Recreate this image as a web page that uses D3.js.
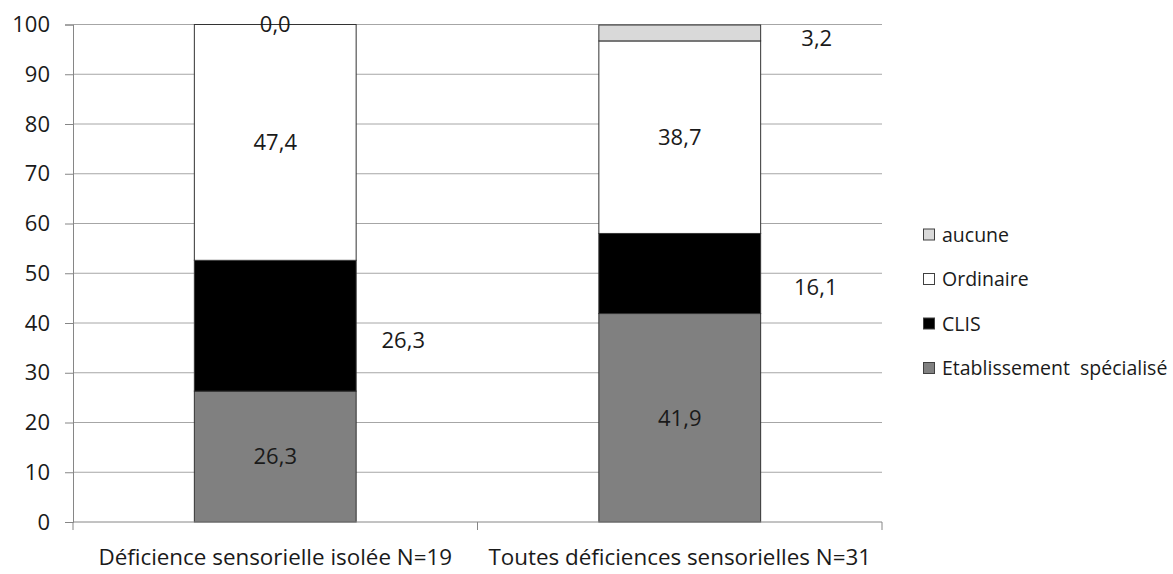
<!DOCTYPE html>
<html>
<head>
<meta charset="utf-8">
<script src="https://cdn.jsdelivr.net/npm/d3@7"></script>
<style>
  html, body { margin: 0; padding: 0; background: #fff; }
  svg { display: block; font-family: "Open Sans", "Noto Sans", sans-serif; }
</style>
</head>
<body>
<svg id="chart" width="1173" height="574"></svg>
<script>
// Scolarisation des enfants selon le type de déficience (%)
const categories = ["Déficience sensorielle isolée N=19", "Toutes déficiences sensorielles N=31"];
const seriesNames = ["Etablissement  spécialisé", "CLIS", "Ordinaire", "aucune"];
const etablissement = [26.3, 41.9];
const clis = [26.3, 16.1];
const ordinaire = [47.4, 38.7];
const aucune = [0.0, 3.2];
const yTicks = [0, 10, 20, 30, 40, 50, 60, 70, 80, 90, 100];

const seriesValues = [etablissement, clis, ordinaire, aucune];
const colors = ["#808080", "#000000", "#ffffff", "#d9d9d9"];

// Labels that sit outside their segment (dark fill or very thin slice)
const labelShift = {
  "1-0": [128, 14], "1-1": [136, 14], "3-1": [137, 5]
};

const svg = d3.select("#chart");
const plot = { left: 73, right: 882, top: 24.5, bottom: 522 };

const x = d3.scaleBand().domain(categories)
  .range([plot.left, plot.right]).paddingInner(0.6).paddingOuter(0.3);
const xCat = d3.scaleBand().domain(categories).range([plot.left, plot.right]);
const y = d3.scaleLinear().domain([0, 100]).range([plot.bottom, plot.top]);

// Horizontal gridlines
svg.append("g").selectAll("line").data(yTicks.filter(d => d > 0)).join("line")
  .attr("x1", plot.left).attr("x2", plot.right)
  .attr("y1", d => y(d)).attr("y2", d => y(d))
  .attr("stroke", "#a6a6a6").attr("stroke-width", 1);

// Y axis
const yAxis = svg.append("g").attr("transform", `translate(${plot.left},0)`)
  .call(d3.axisLeft(y).tickValues(yTicks).tickSize(8).tickPadding(15).tickFormat(d3.format("d")));
yAxis.select(".domain").attr("stroke", "#868686");
yAxis.selectAll(".tick line").attr("stroke", "#868686");
yAxis.selectAll("text").attr("fill", "#1a1a1a").style("font-size", "22px")
  .style("font-family", "'Open Sans', sans-serif");

// Stacked data
const rows = categories.map((c, i) => {
  const r = { cat: c };
  seriesNames.forEach((s, k) => r[s] = seriesValues[k][i]);
  return r;
});
const stacked = d3.stack().keys(seriesNames)(rows);

const layers = svg.append("g").selectAll("g").data(stacked).join("g")
  .attr("fill", (d, k) => colors[k]);
layers.selectAll("rect").data(d => d).join("rect")
  .attr("x", d => x(d.data.cat))
  .attr("width", x.bandwidth())
  .attr("y", d => y(d[1]))
  .attr("height", d => y(d[0]) - y(d[1]))
  .attr("stroke", "#333").attr("stroke-width", 1);

// X axis
const xAxis = svg.append("g").attr("transform", `translate(0,${plot.bottom})`);
xAxis.append("line").attr("x1", plot.left).attr("x2", plot.right)
  .attr("stroke", "#868686");
const bounds = [plot.left, ...categories.map(c => xCat(c) + xCat.bandwidth())];
xAxis.selectAll(".tk").data(bounds).join("line").attr("class", "tk")
  .attr("x1", d => d).attr("x2", d => d).attr("y1", 0).attr("y2", 8)
  .attr("stroke", "#868686");
xAxis.selectAll("text").data(categories).join("text")
  .attr("x", d => x(d) + x.bandwidth() / 2).attr("y", 43)
  .attr("text-anchor", "middle").attr("fill", "#1a1a1a")
  .style("font-size", "22.4px").text(d => d);

// Data labels
const fmt = v => d3.format(".1f")(v).replace(".", ",");
const labels = [];
stacked.forEach((layer, k) => layer.forEach((d, i) => {
  const shift = labelShift[k + "-" + i] || [0, 0];
  labels.push({
    v: seriesValues[k][i],
    cx: x(d.data.cat) + x.bandwidth() / 2 + shift[0],
    cy: y((d[0] + d[1]) / 2) + shift[1]
  });
}));
svg.append("g").selectAll("text").data(labels).join("text")
  .attr("x", d => d.cx).attr("y", d => d.cy).attr("dy", "0.36em")
  .attr("text-anchor", "middle").attr("fill", "#1a1a1a")
  .style("font-size", "22px").text(d => fmt(d.v));

// Legend (top entry = last series)
const legendOrder = seriesNames.map((s, k) => ({ name: s, color: colors[k] })).reverse();
const legend = svg.append("g").attr("transform", "translate(923,234.5)");
const item = legend.selectAll("g").data(legendOrder).join("g")
  .attr("transform", (d, i) => `translate(0,${i * 44.5})`);
item.append("rect").attr("x", 0.5).attr("y", -5.5).attr("width", 11).attr("height", 11)
  .attr("fill", d => d.color).attr("stroke", "#404040").attr("stroke-width", 1);
item.append("text").attr("x", 19).attr("dy", "0.36em").attr("fill", "#1a1a1a")
  .style("font-size", "19.5px").style("white-space", "pre").attr("xml:space", "preserve")
  .text(d => d.name);
</script>
</body>
</html>
